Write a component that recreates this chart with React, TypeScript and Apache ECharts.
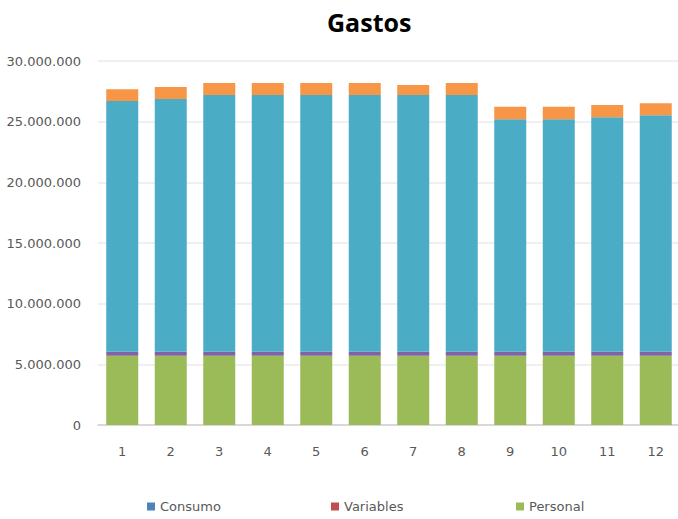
import React, { useEffect, useRef } from "react";
import * as echarts from "echarts";

const categories = ["1", "2", "3", "4", "5", "6", "7", "8", "9", "10", "11", "12"];
const consumo = [0, 0, 0, 0, 0, 0, 0, 0, 0, 0, 0, 0];
const variables = [0, 0, 0, 0, 0, 0, 0, 0, 0, 0, 0, 0];
const personal = [5700000, 5700000, 5700000, 5700000, 5700000, 5700000, 5700000, 5700000, 5700000, 5700000, 5700000, 5700000];
const serie4 = [330000, 330000, 330000, 330000, 330000, 330000, 330000, 330000, 330000, 330000, 330000, 330000];
const serie5 = [20670000, 20840000, 21170000, 21170000, 21170000, 21170000, 21170000, 21170000, 19170000, 19170000, 19330000, 19490000];
const serie6 = [970000, 990000, 990000, 990000, 990000, 990000, 830000, 990000, 1030000, 1030000, 1010000, 990000];
const yTicks = { min: 0, max: 30000000, interval: 5000000 };

const FONT = "DejaVu Sans";

function fmt(v: number): string {
  return String(Math.round(v)).replace(/\B(?=(\d{3})+(?!\d))/g, ".");
}

export default function App() {
  const ref = useRef<HTMLDivElement>(null);
  useEffect(() => {
    if (!ref.current) return;
    const chart = echarts.init(ref.current, undefined, { renderer: "svg" });
    const bar = (name: string, data: number[], color: string) => ({
      name,
      type: "bar",
      stack: "total",
      data,
      barWidth: 32,
      itemStyle: { color },
    });
    const legendBase = {
      top: 500,
      padding: 0,
      itemWidth: 8,
      itemHeight: 8,
      icon: "rect",
      textStyle: { fontFamily: FONT, fontSize: 13, color: "#595959" },
      selectedMode: false,
    };
    chart.setOption({
      animation: false,
      backgroundColor: "#ffffff",
      title: {
        text: "Gastos",
        left: 327,
        top: 9,
        padding: 0,
        textStyle: { fontFamily: "Open Sans", fontWeight: "bold", fontSize: 25, color: "#000000" },
      },
      legend: [
        { ...legendBase, left: 147, data: ["Consumo"] },
        { ...legendBase, left: 331, data: ["Variables"] },
        { ...legendBase, left: 516, data: ["Personal"] },
      ],
      grid: { left: 98, top: 61, width: 582, height: 364, outerBoundsMode: "none", containLabel: false },
      xAxis: {
        type: "category",
        data: categories,
        axisTick: { show: false },
        axisLine: { lineStyle: { color: "#d0d0d0", width: 1.5 } },
        axisLabel: { margin: 20, fontFamily: FONT, fontSize: 13, color: "#595959" },
      },
      yAxis: {
        type: "value",
        min: yTicks.min,
        max: yTicks.max,
        interval: yTicks.interval,
        axisLine: { show: false },
        axisTick: { show: false },
        splitLine: { lineStyle: { color: "#ebebeb", width: 1.5 } },
        axisLabel: { margin: 17, fontFamily: FONT, fontSize: 13, color: "#595959", formatter: (v: number) => fmt(v) },
      },
      series: [
        bar("Consumo", consumo, "#4F81BD"),
        bar("Variables", variables, "#C0504D"),
        bar("Personal", personal, "#9BBB59"),
        bar("Serie 4", serie4, "#8064A2"),
        bar("Serie 5", serie5, "#4BACC6"),
        bar("Serie 6", serie6, "#F79646"),
      ],
    });
    return () => chart.dispose();
  }, []);
  return <div ref={ref} style={{ width: 678, height: 519, position: "absolute", left: 0, top: 0 }} />;
}
